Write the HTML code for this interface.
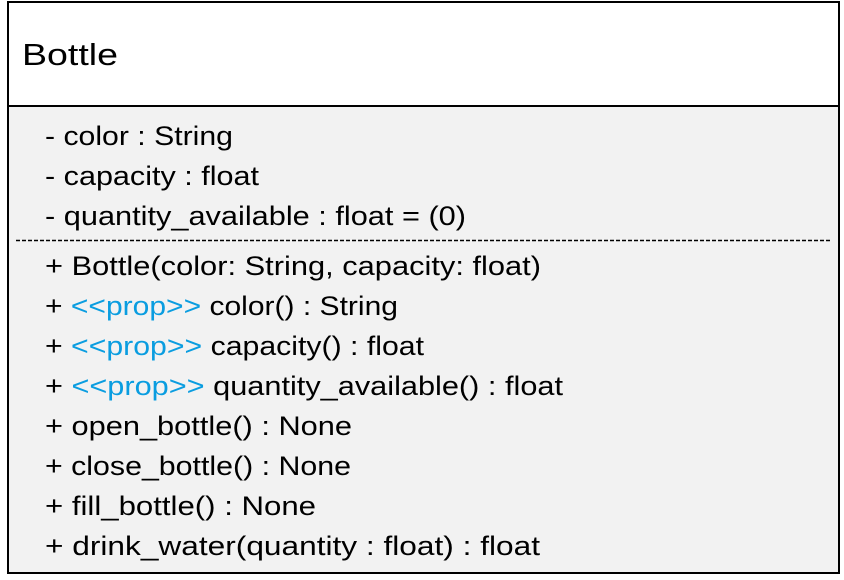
<!DOCTYPE html>
<html><head><meta charset="utf-8"><style>
html,body{margin:0;padding:0;background:#fff;width:844px;height:580px;overflow:hidden}
svg text{font-family:"Liberation Sans",sans-serif;font-size:26.5px;fill:#000}
.b{fill:#0a9de0}
</style></head><body>
<svg width="844" height="580" viewBox="0 0 844 580" xmlns="http://www.w3.org/2000/svg">
<rect x="8" y="2" width="831" height="571" fill="#f2f2f2" stroke="#000" stroke-width="2"/>
<rect x="9" y="3" width="829" height="103" fill="#fff"/>
<line x1="8" y1="106" x2="839" y2="106" stroke="#000" stroke-width="2"/>
<line x1="16" y1="240.5" x2="832" y2="240.5" stroke="#000" stroke-width="1.4" stroke-dasharray="4,2"/>
<text x="22" y="65" style="font-size:31px" textLength="96" lengthAdjust="spacingAndGlyphs">Bottle</text>
<text x="45" y="145" textLength="188" lengthAdjust="spacingAndGlyphs">- color : String</text>
<text x="45" y="185" textLength="214" lengthAdjust="spacingAndGlyphs">- capacity : float</text>
<text x="45" y="225" textLength="421" lengthAdjust="spacingAndGlyphs">- quantity_available : float = (0)</text>
<text x="45" y="275" textLength="496" lengthAdjust="spacingAndGlyphs">+ Bottle(color: String, capacity: float)</text>
<text x="45" y="315" textLength="353" lengthAdjust="spacingAndGlyphs">+ <tspan class="b">&lt;&lt;prop&gt;&gt;</tspan> color() : String</text>
<text x="45" y="355" textLength="379" lengthAdjust="spacingAndGlyphs">+ <tspan class="b">&lt;&lt;prop&gt;&gt;</tspan> capacity() : float</text>
<text x="45" y="395" textLength="518" lengthAdjust="spacingAndGlyphs">+ <tspan class="b">&lt;&lt;prop&gt;&gt;</tspan> quantity_available() : float</text>
<text x="45" y="435" textLength="307" lengthAdjust="spacingAndGlyphs">+ open_bottle() : None</text>
<text x="45" y="475" textLength="306" lengthAdjust="spacingAndGlyphs">+ close_bottle() : None</text>
<text x="45" y="515" textLength="271" lengthAdjust="spacingAndGlyphs">+ fill_bottle() : None</text>
<text x="45" y="555" textLength="495" lengthAdjust="spacingAndGlyphs">+ drink_water(quantity : float) : float</text>
</svg>
</body></html>
